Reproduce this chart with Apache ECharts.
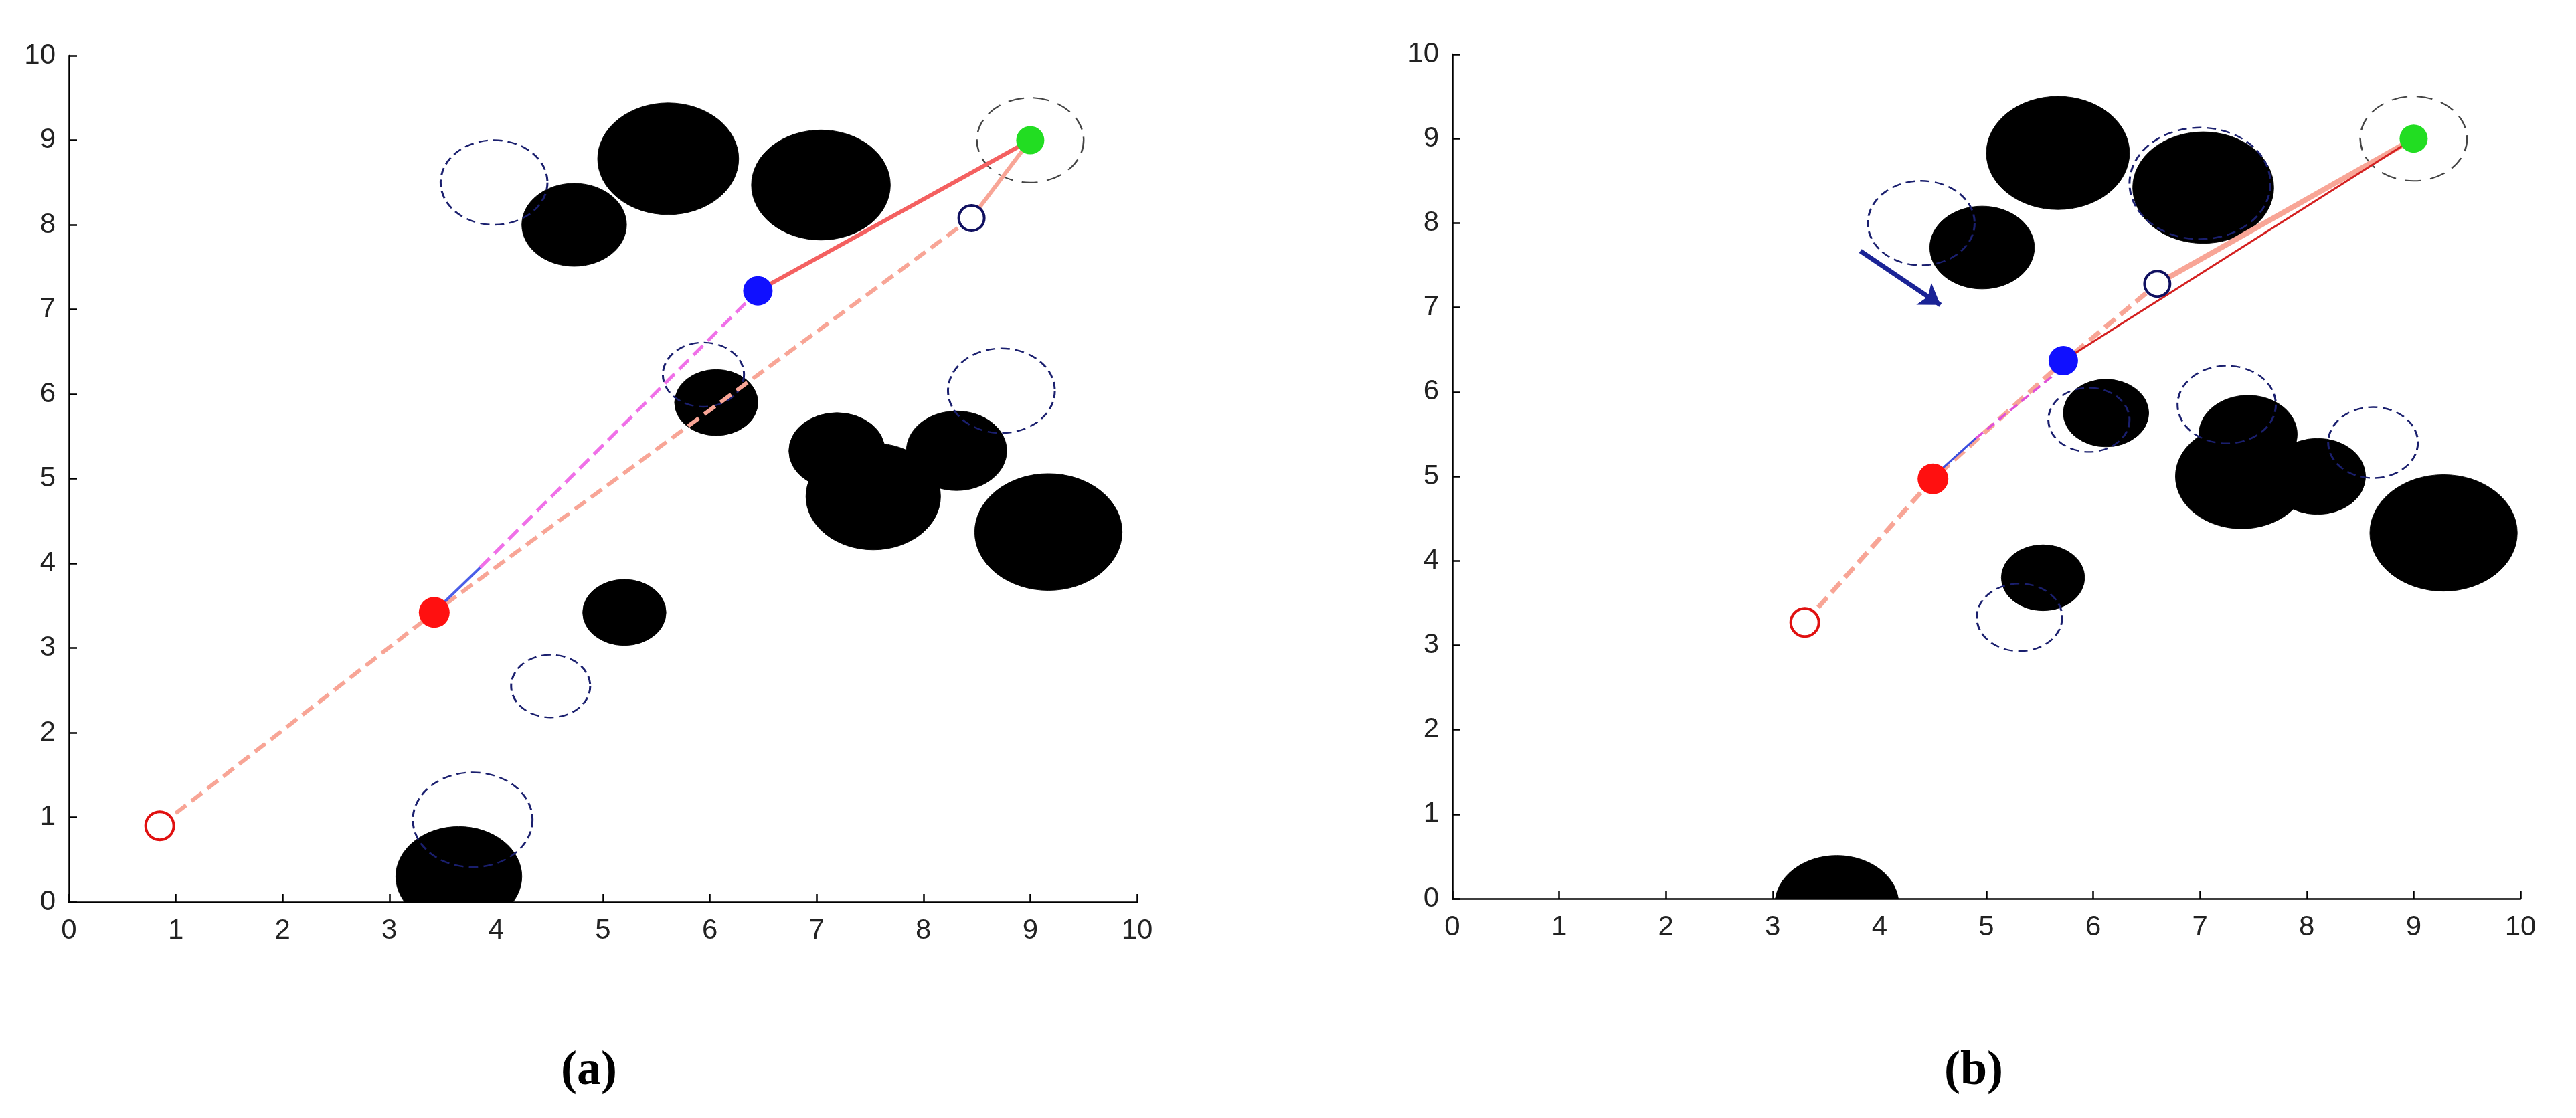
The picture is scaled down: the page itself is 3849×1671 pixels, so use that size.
<!DOCTYPE html>
<html><head><meta charset="utf-8">
<script src="https://cdn.jsdelivr.net/npm/echarts@6/dist/echarts.min.js"></script>
<style>html,body{margin:0;background:#fff}#c{width:3849px;height:1671px}</style>
</head><body><div id="c"></div>
<script>
const ticks = [0,1,2,3,4,5,6,7,8,9,10];
// panel (a)
const obstaclesA = [[4.73,8.0,0.49],[5.61,8.78,0.66],[7.04,8.47,0.65],[6.06,5.9,0.39],[7.19,5.33,0.45],[7.53,4.79,0.63],[8.31,5.33,0.47],[9.17,4.37,0.69],[5.2,3.42,0.39],[3.65,0.3,0.59]];
const dashedA = [[3.98,8.5,0.5],[5.94,6.23,0.38],[8.73,6.04,0.5],[4.51,2.55,0.37],[3.78,0.97,0.56]];
const goalRingA = [[9.0,9.0,0.5]];
const pathDashA = [[0.85,0.9],[3.42,3.42],[8.45,8.08]];
const pathSolidA = [[8.45,8.08],[9.0,9.0]];
const blueSegA = [[3.48,3.5],[3.85,3.95]];
const magentaA = [[3.85,3.95],[6.45,7.22]];
const redLineA = [[6.45,7.22],[9.0,9.0]];
const startA = [0.85,0.9], redPtA = [3.42,3.42], bluePtA = [6.45,7.22], navyPtA = [8.45,8.08], goalA = [9.0,9.0];
// panel (b)
const obstaclesB = [[5.67,8.83,0.67],[7.03,8.42,0.66],[4.96,7.71,0.49],[6.12,5.75,0.4],[7.45,5.5,0.46],[7.39,5.0,0.62],[8.1,5.0,0.45],[9.28,4.33,0.69],[5.53,3.8,0.39],[3.6,-0.07,0.58]];
const dashedB = [[4.39,8.0,0.5],[7.0,8.47,0.66],[5.96,5.67,0.38],[7.25,5.85,0.46],[8.62,5.4,0.42],[5.31,3.33,0.4]];
const goalRingB = [[9.0,9.0,0.5]];
const pathDashB = [[3.3,3.27],[4.5,4.97],[5.65,6.28],[6.6,7.28]];
const pathSolidB = [[6.6,7.28],[9.0,9.0]];
const blueSegB = [[4.55,5.05],[4.9,5.45]];
const magentaB = [[4.9,5.45],[5.65,6.22]];
const redLineB = [[5.72,6.37],[9.0,9.0]];
const arrowB = [[3.82,7.67],[4.57,7.03]];
const startB = [3.3,3.27], redPtB = [4.5,4.97], bluePtB = [5.72,6.37], navyPtB = [6.6,7.28], goalB = [9.0,9.0];

function ellipses(data, idx, style, z){
  return {type:'custom', xAxisIndex:idx, yAxisIndex:idx, clip:true, z:z, silent:true,
    data:data, encode:{x:0,y:1},
    renderItem:function(p, api){
      const c = api.coord([api.value(0), api.value(1)]);
      const r = api.value(2);
      const rx = api.size([r,0])[0], ry = api.size([0,r])[1];
      return {type:'circle', x:c[0], y:c[1], scaleY: ry/rx, shape:{cx:0,cy:0,r:rx},
        style:Object.assign({strokeNoScale:true}, style)};
    }};
}
function line(data, idx, color, width, type, z){
  return {type:'line', xAxisIndex:idx, yAxisIndex:idx, data:data, symbol:'none', z:z||3, silent:true,
    lineStyle:{color:color, width:width, type:type||'solid', opacity:1}, animation:false};
}
function pt(p, idx, color, size, hollow, z){
  return {type:'scatter', xAxisIndex:idx, yAxisIndex:idx, data:[p], symbolSize:size, z:z||5, silent:true,
    itemStyle: hollow ? {color:'#fff', borderColor:color, borderWidth:4, opacity:1} : {color:color, opacity:1}};
}
const axisX = (i)=>({type:'value', gridIndex:i, min:0, max:10, interval:1,
  axisLine:{show:true, lineStyle:{color:'#000', width:2.5}},
  axisTick:{show:true, inside:true, length:12, lineStyle:{color:'#000', width:2.5}},
  axisLabel:{fontSize:42, color:'#222', fontFamily:'Liberation Sans', margin:22},
  splitLine:{show:false}});
const axisY = (i)=>({type:'value', gridIndex:i, min:0, max:10, interval:1,
  axisLine:{show:true, lineStyle:{color:'#000', width:2.5}},
  axisTick:{show:true, inside:true, length:12, lineStyle:{color:'#000', width:2.5}},
  axisLabel:{fontSize:42, color:'#222', fontFamily:'Liberation Sans', margin:20},
  splitLine:{show:false}});

const obsStyle = {fill:'#000', stroke:'#000', lineWidth:1};
const dashStyle = {fill:'none', stroke:'#1a1f6e', lineWidth:3, lineDash:[14,8]};
const goalStyle = {fill:'none', stroke:'#444', lineWidth:2.5, lineDash:[24,14]};
const salmon = '#f8a596';

const series = [
  ellipses(obstaclesA,0,obsStyle,1), ellipses(dashedA,0,dashStyle,2), ellipses(goalRingA,0,goalStyle,2),
  line(pathDashA,0,salmon,6,[20,10]), line(pathSolidA,0,salmon,6),
  line(blueSegA,0,'#4a5ee8',4), line(magentaA,0,'#f070e8',5,[20,10]), line(redLineA,0,'#f46060',6),
  pt(startA,0,'#e01010',42,true), pt(redPtA,0,'#ff1010',46), pt(bluePtA,0,'#1010ff',44), pt(navyPtA,0,'#101060',38,true), pt(goalA,0,'#22dd22',42),
  ellipses(obstaclesB,1,obsStyle,1), ellipses(dashedB,1,dashStyle,2), ellipses(goalRingB,1,goalStyle,2),
  line(pathDashB,1,salmon,7,[20,10]), line(pathSolidB,1,salmon,8),
  line(blueSegB,1,'#3a4ee0',3), line(magentaB,1,'#e050d8',3.5,[14,8]), line(redLineB,1,'#d42020',3,'solid',4),
  {type:'lines', coordinateSystem:'cartesian2d', xAxisIndex:1, yAxisIndex:1, z:4, silent:true,
   symbol:['none','arrow'], symbolSize:30,
   data:[{coords:arrowB}], lineStyle:{color:'#1a2396', width:7, opacity:1}},
  pt(startB,1,'#e01010',42,true), pt(redPtB,1,'#ff1010',46), pt(bluePtB,1,'#1010ff',44), pt(navyPtB,1,'#101060',38,true), pt(goalB,1,'#22dd22',42)
];

const chart = echarts.init(document.getElementById('c'));
chart.setOption({
  animation:false, backgroundColor:'#fff',
  grid:[{left:103, width:1596, top:83, height:1265},{left:2170, width:1596, top:81, height:1262}],
  xAxis:[axisX(0), axisX(1)], yAxis:[axisY(0), axisY(1)],
  series:series,
  graphic:[
    {type:'text', left:838, top:1565, style:{text:'(a)', font:'bold 72px "Liberation Serif"', fill:'#000'}},
    {type:'text', left:2905, top:1565, style:{text:'(b)', font:'bold 72px "Liberation Serif"', fill:'#000'}}
  ]
});
</script></body></html>
